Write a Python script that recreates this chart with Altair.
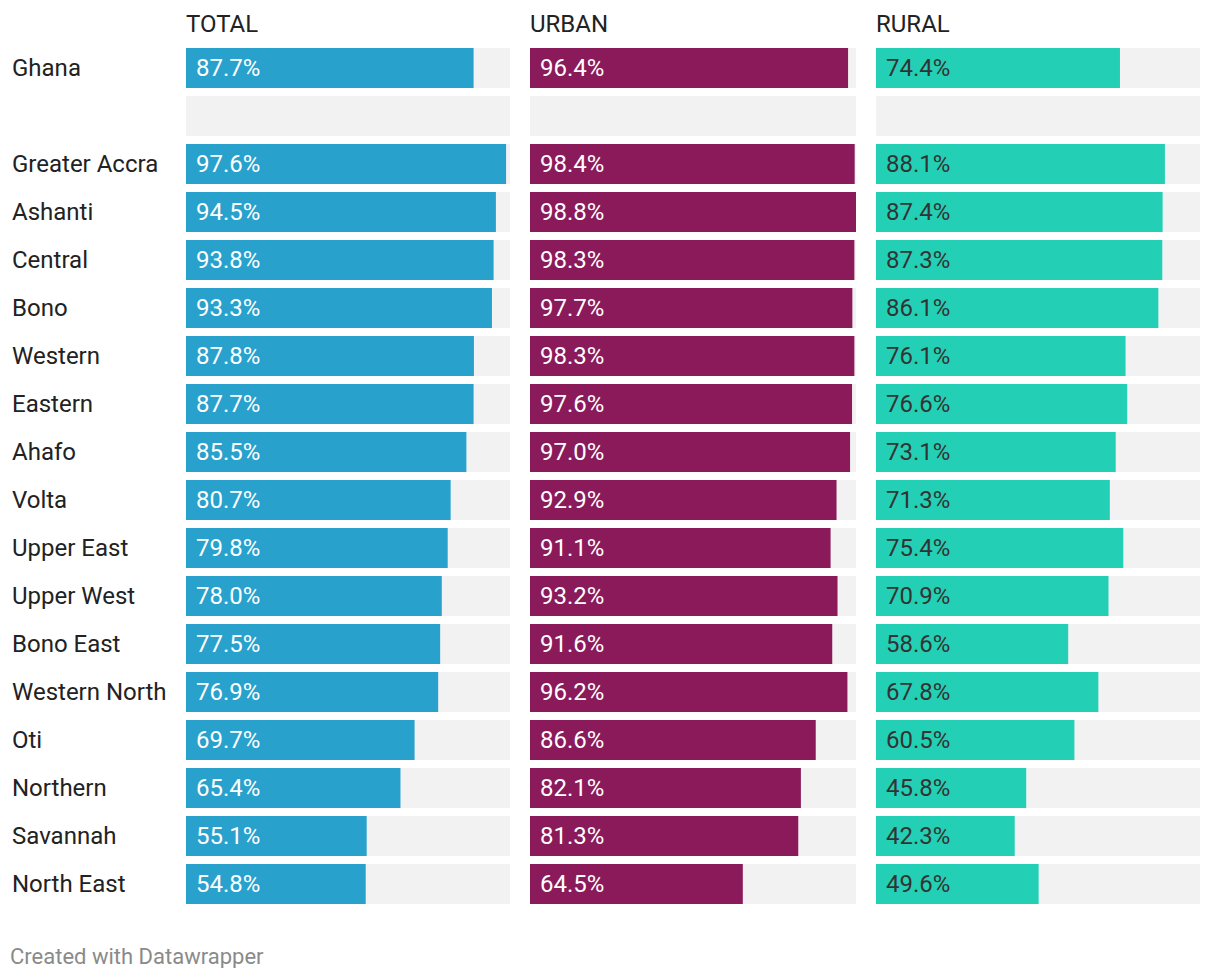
import altair as alt
import pandas as pd

rows = ["Ghana", " ", "Greater Accra", "Ashanti", "Central", "Bono", "Western", "Eastern",
        "Ahafo", "Volta", "Upper East", "Upper West", "Bono East", "Western North",
        "Oti", "Northern", "Savannah", "North East"]
total = [87.7, None, 97.6, 94.5, 93.8, 93.3, 87.8, 87.7, 85.5, 80.7, 79.8, 78.0, 77.5, 76.9, 69.7, 65.4, 55.1, 54.8]
urban = [96.4, None, 98.4, 98.8, 98.3, 97.7, 98.3, 97.6, 97.0, 92.9, 91.1, 93.2, 91.6, 96.2, 86.6, 82.1, 81.3, 64.5]
rural = [74.4, None, 88.1, 87.4, 87.3, 86.1, 76.1, 76.6, 73.1, 71.3, 75.4, 70.9, 58.6, 67.8, 60.5, 45.8, 42.3, 49.6]
headers = ["TOTAL", "URBAN", "RURAL"]
colors = ["#29a1cd", "#8a1a5a", "#23d0b5"]
text_colors = ["#ffffff", "#ffffff", "#333333"]

dmax = max(v for s in (total, urban, rural) for v in s if v is not None)

df = pd.DataFrame({"row": rows, "total": total, "urban": urban, "rural": rural})
df["bg"] = dmax

FONT = "Roboto"
FS = 24
H = 856
yenc = alt.Y("row:N", sort=rows, axis=None,
             scale=alt.Scale(type="band", paddingInner=8 / 48, paddingOuter=0))
xscale = alt.Scale(domain=[0, dmax], nice=False, zero=True)


def title(t):
    return alt.TitleParams(t, anchor="start", fontSize=FS, font=FONT, fontWeight="normal",
                           color="#222222", offset=11)


def panel(field, head, color, tcolor, width):
    base = alt.Chart(df)
    bg = base.mark_bar(color="#f2f2f2").encode(
        x=alt.X("bg:Q", scale=xscale, axis=None), y=yenc)
    bar = base.transform_filter(f"isValid(datum.{field})").mark_bar(color=color).encode(
        x=alt.X(f"{field}:Q", scale=xscale, axis=None), y=yenc)
    txt = base.transform_filter(f"isValid(datum.{field})").transform_calculate(
        lab=f"format(datum.{field}, '.1f') + '%'"
    ).mark_text(align="left", baseline="middle", dx=10, dy=1, fontSize=FS, font=FONT,
                color=tcolor).encode(
        x=alt.datum(0, scale=xscale), y=yenc, text="lab:N")
    return alt.layer(bg, bar, txt).properties(width=width, height=H, title=title(head))


labels = alt.Chart(df).mark_text(align="left", baseline="middle", dy=1, fontSize=FS, font=FONT,
                                 color="#222222").encode(
    x=alt.value(4), y=yenc, text="row:N"
).properties(width=178, height=H, title=title(" "))

panels = alt.hconcat(
    panel("total", headers[0], colors[0], text_colors[0], 324),
    panel("urban", headers[1], colors[1], text_colors[1], 326),
    panel("rural", headers[2], colors[2], text_colors[2], 324),
    spacing=20,
)

chart = alt.hconcat(labels, panels, spacing=0).properties(
    padding={"top": 5, "left": 0, "right": 0, "bottom": 0},
    title=alt.TitleParams("Created with Datawrapper", orient="bottom", anchor="start",
                          fontSize=22, font=FONT, fontWeight="normal", color="#8a8a8a",
                          offset=43, dx=2),
).configure_view(stroke=None)

chart.save("out.html", embed_options={"renderer": "svg", "actions": False})
